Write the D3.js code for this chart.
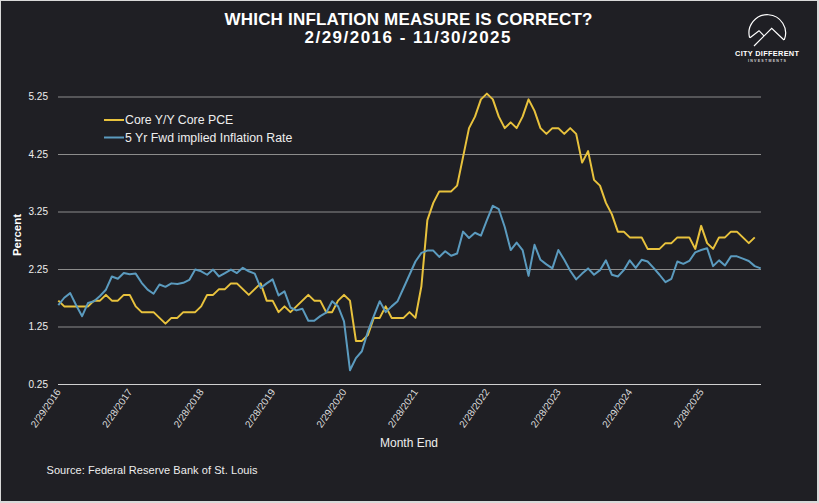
<!DOCTYPE html>
<html>
<head>
<meta charset="utf-8">
<script src="https://cdn.jsdelivr.net/npm/d3@7"></script>
<style>
    body { margin: 0; background: #d9d9d9; }
    svg { display: block; }
</style>
</head>
<body>
<div id="chart"></div>
<script>
// month ends, Feb 2016 .. Dec 2025
months = d3.timeMonth.range(new Date(2016, 1, 1), new Date(2026, 0, 1));

tickMonths = [0, 12, 24, 36, 48, 60, 72, 84, 96, 108];
tickLabels = ["2/29/2016", "2/28/2017", "2/28/2018", "2/28/2019", "2/29/2020",
              "2/28/2021", "2/28/2022", "2/28/2023", "2/29/2024", "2/28/2025"];

yTicks = [0.25, 1.25, 2.25, 3.25, 4.25, 5.25];

seriesNames = ["Core Y/Y Core PCE", "5 Yr Fwd implied Inflation Rate"];

corePce = [1.7, 1.6, 1.6, 1.6, 1.6, 1.6, 1.7, 1.7, 1.8, 1.7,
           1.7, 1.8, 1.8, 1.6, 1.5, 1.5, 1.5, 1.4, 1.3, 1.4,
           1.4, 1.5, 1.5, 1.5, 1.6, 1.8, 1.8, 1.9, 1.9, 2.0,
           2.0, 1.9, 1.8, 1.9, 2.0, 1.7, 1.7, 1.5, 1.6, 1.5,
           1.6, 1.7, 1.8, 1.7, 1.7, 1.5, 1.5, 1.7, 1.8, 1.7,
           1.0, 1.0, 1.1, 1.4, 1.4, 1.6, 1.4, 1.4, 1.4, 1.5,
           1.4, 1.95, 3.1, 3.4, 3.6, 3.6, 3.6, 3.7, 4.2, 4.7,
           4.9, 5.2, 5.3, 5.2, 4.9, 4.7, 4.8, 4.7, 4.9, 5.2,
           5.0, 4.7, 4.6, 4.7, 4.7, 4.6, 4.7, 4.6, 4.1, 4.3,
           3.8, 3.7, 3.4, 3.2, 2.9, 2.9, 2.8, 2.8, 2.8, 2.6,
           2.6, 2.6, 2.7, 2.7, 2.8, 2.8, 2.8, 2.6, 3.0, 2.7,
           2.6, 2.8, 2.8, 2.9, 2.9, 2.8, 2.7, 2.8];

fwdInflation = [1.62, 1.75, 1.83, 1.62, 1.43, 1.66, 1.69, 1.78, 1.89, 2.12,
                2.08, 2.18, 2.16, 2.17, 2.01, 1.89, 1.82, 1.98, 1.94, 2.00,
                1.99, 2.01, 2.06, 2.24, 2.21, 2.15, 2.24, 2.12, 2.18, 2.24,
                2.18, 2.27, 2.21, 2.17, 1.92, 2.00, 2.07, 1.79, 1.86, 1.58,
                1.53, 1.56, 1.35, 1.35, 1.43, 1.49, 1.69, 1.60, 1.34, 0.49,
                0.70, 0.82, 1.16, 1.43, 1.69, 1.50, 1.60, 1.69, 1.92, 2.15,
                2.38, 2.53, 2.57, 2.57, 2.46, 2.56, 2.48, 2.52, 2.90, 2.79,
                2.88, 2.83, 3.10, 3.35, 3.29, 2.98, 2.58, 2.71, 2.58, 2.13,
                2.67, 2.41, 2.33, 2.26, 2.58, 2.41, 2.22, 2.07, 2.17, 2.26,
                2.15, 2.23, 2.40, 2.15, 2.12, 2.23, 2.40, 2.27, 2.41, 2.38,
                2.27, 2.15, 2.02, 2.08, 2.38, 2.34, 2.39, 2.54, 2.58, 2.61,
                2.30, 2.40, 2.31, 2.47, 2.47, 2.43, 2.39, 2.30, 2.26];

var width = 819, height = 503;
var yellow = "#e8c23d", blue = "#5b9bbf";

function toPoints(values) {
    return values.map((v, i) => ({ "month": months[i], "value": v }));
}

function draw() {
    var svg = d3.select("#chart")
        .append("svg")
        .attr("width", width)
        .attr("height", height)
        .style("font-family", "'Liberation Sans', Arial, sans-serif");

    svg.append("rect")
        .attr("x", 1).attr("y", 1)
        .attr("width", width - 3).attr("height", height - 3)
        .attr("fill", "#1f1f24");

    var x = d3.scalePoint()
        .domain(months)
        .range([58.3, 760.7]);

    var y = d3.scaleLinear()
        .domain([0.25, 5.25])
        .range([384, 96.5]);

    // gridlines + y labels
    var yAxis = svg.append("g")
        .attr("transform", "translate(58,0)")
        .call(d3.axisLeft(y).tickValues(yTicks).tickFormat(d3.format(".2f"))
            .tickSize(-703).tickPadding(10));
    yAxis.select(".domain").remove();
    yAxis.selectAll(".tick line")
        .attr("stroke", d => d == 0.25 ? "#d0d0d0" : "#8c8c8c");
    yAxis.selectAll(".tick text")
        .attr("fill", "#eeeeee")
        .style("font-size", "10px")
        .style("font-family", "'Liberation Sans', Arial, sans-serif");

    // x labels
    svg.append("g").selectAll("text")
        .data(tickMonths)
        .enter()
        .append("text")
        .attr("transform", (d) => "translate(" + (x(months[d]) + 3) + ",392) rotate(-55)")
        .attr("text-anchor", "end")
        .attr("fill", "#dddddd")
        .style("font-size", "10px")
        .text((d, i) => tickLabels[i]);

    var line = d3.line()
        .x(d => x(d.month))
        .y(d => y(d.value));

    svg.append("path")
        .datum(toPoints(corePce))
        .attr("d", line)
        .attr("fill", "none")
        .attr("stroke", yellow)
        .attr("stroke-width", 2)
        .attr("stroke-linejoin", "round");

    svg.append("path")
        .datum(toPoints(fwdInflation))
        .attr("d", line)
        .attr("fill", "none")
        .attr("stroke", blue)
        .attr("stroke-width", 2)
        .attr("stroke-linejoin", "round");

    // legend
    var legend = svg.append("g").selectAll("g")
        .data(seriesNames)
        .enter()
        .append("g")
        .attr("transform", (d, i) => "translate(104," + (120 + i * 17.5) + ")");
    legend.append("line")
        .attr("x1", 0).attr("x2", 20)
        .attr("stroke", (d, i) => i == 0 ? yellow : blue)
        .attr("stroke-width", 2);
    legend.append("text")
        .attr("x", 21).attr("y", 4)
        .attr("fill", "#eeeeee")
        .style("font-size", "12.3px")
        .text(d => d);

    // titles
    svg.append("text")
        .attr("x", 408.5).attr("y", 25)
        .attr("text-anchor", "middle")
        .attr("fill", "#ffffff")
        .style("font-size", "17px").style("font-weight", "bold")
        .attr("textLength", 368)
        .text("WHICH INFLATION MEASURE IS CORRECT?");
    svg.append("text")
        .attr("x", 407.5).attr("y", 43.3)
        .attr("text-anchor", "middle")
        .attr("fill", "#ffffff")
        .style("font-size", "17px").style("font-weight", "bold")
        .attr("textLength", 206)
        .text("2/29/2016 - 11/30/2025");

    svg.append("text")
        .attr("transform", "translate(21,235) rotate(-90)")
        .attr("text-anchor", "middle")
        .attr("fill", "#ffffff")
        .style("font-size", "11.5px").style("font-weight", "bold")
        .text("Percent");

    svg.append("text")
        .attr("x", 409).attr("y", 447)
        .attr("text-anchor", "middle")
        .attr("fill", "#eeeeee")
        .style("font-size", "12px")
        .text("Month End");

    svg.append("text")
        .attr("x", 46.5).attr("y", 474)
        .attr("fill", "#eeeeee")
        .style("font-size", "11px")
        .attr("textLength", 211)
        .text("Source: Federal Reserve Bank of St. Louis");

    // logo
    var logo = svg.append("g")
        .attr("fill", "none")
        .attr("stroke", "#ffffff")
        .attr("stroke-width", 1.2);
    logo.append("path")
        .attr("transform", "translate(767.3,33)")
        .attr("d", d3.arc()({ innerRadius: 18.3, outerRadius: 18.3,
            startAngle: -105 * Math.PI / 180, endAngle: 112 * Math.PI / 180 }));
    logo.append("path")
        .attr("d", d3.line()([[754, 46], [771.7, 28.3], [784, 40]]));
    logo.append("path")
        .attr("d", d3.line()([[750, 37.7], [759, 30.7], [764, 35.8]]));

    svg.append("text")
        .attr("x", 735).attr("y", 55.8)
        .attr("fill", "#ffffff")
        .style("font-size", "7.4px").style("font-weight", "bold")
        .attr("textLength", 64)
        .text("CITY DIFFERENT");
    svg.append("text")
        .attr("x", 748).attr("y", 62)
        .attr("fill", "#cccccc")
        .style("font-size", "3.6px").style("font-weight", "bold")
        .attr("textLength", 38)
        .text("INVESTMENTS");
}

draw();
</script>
</body>
</html>
